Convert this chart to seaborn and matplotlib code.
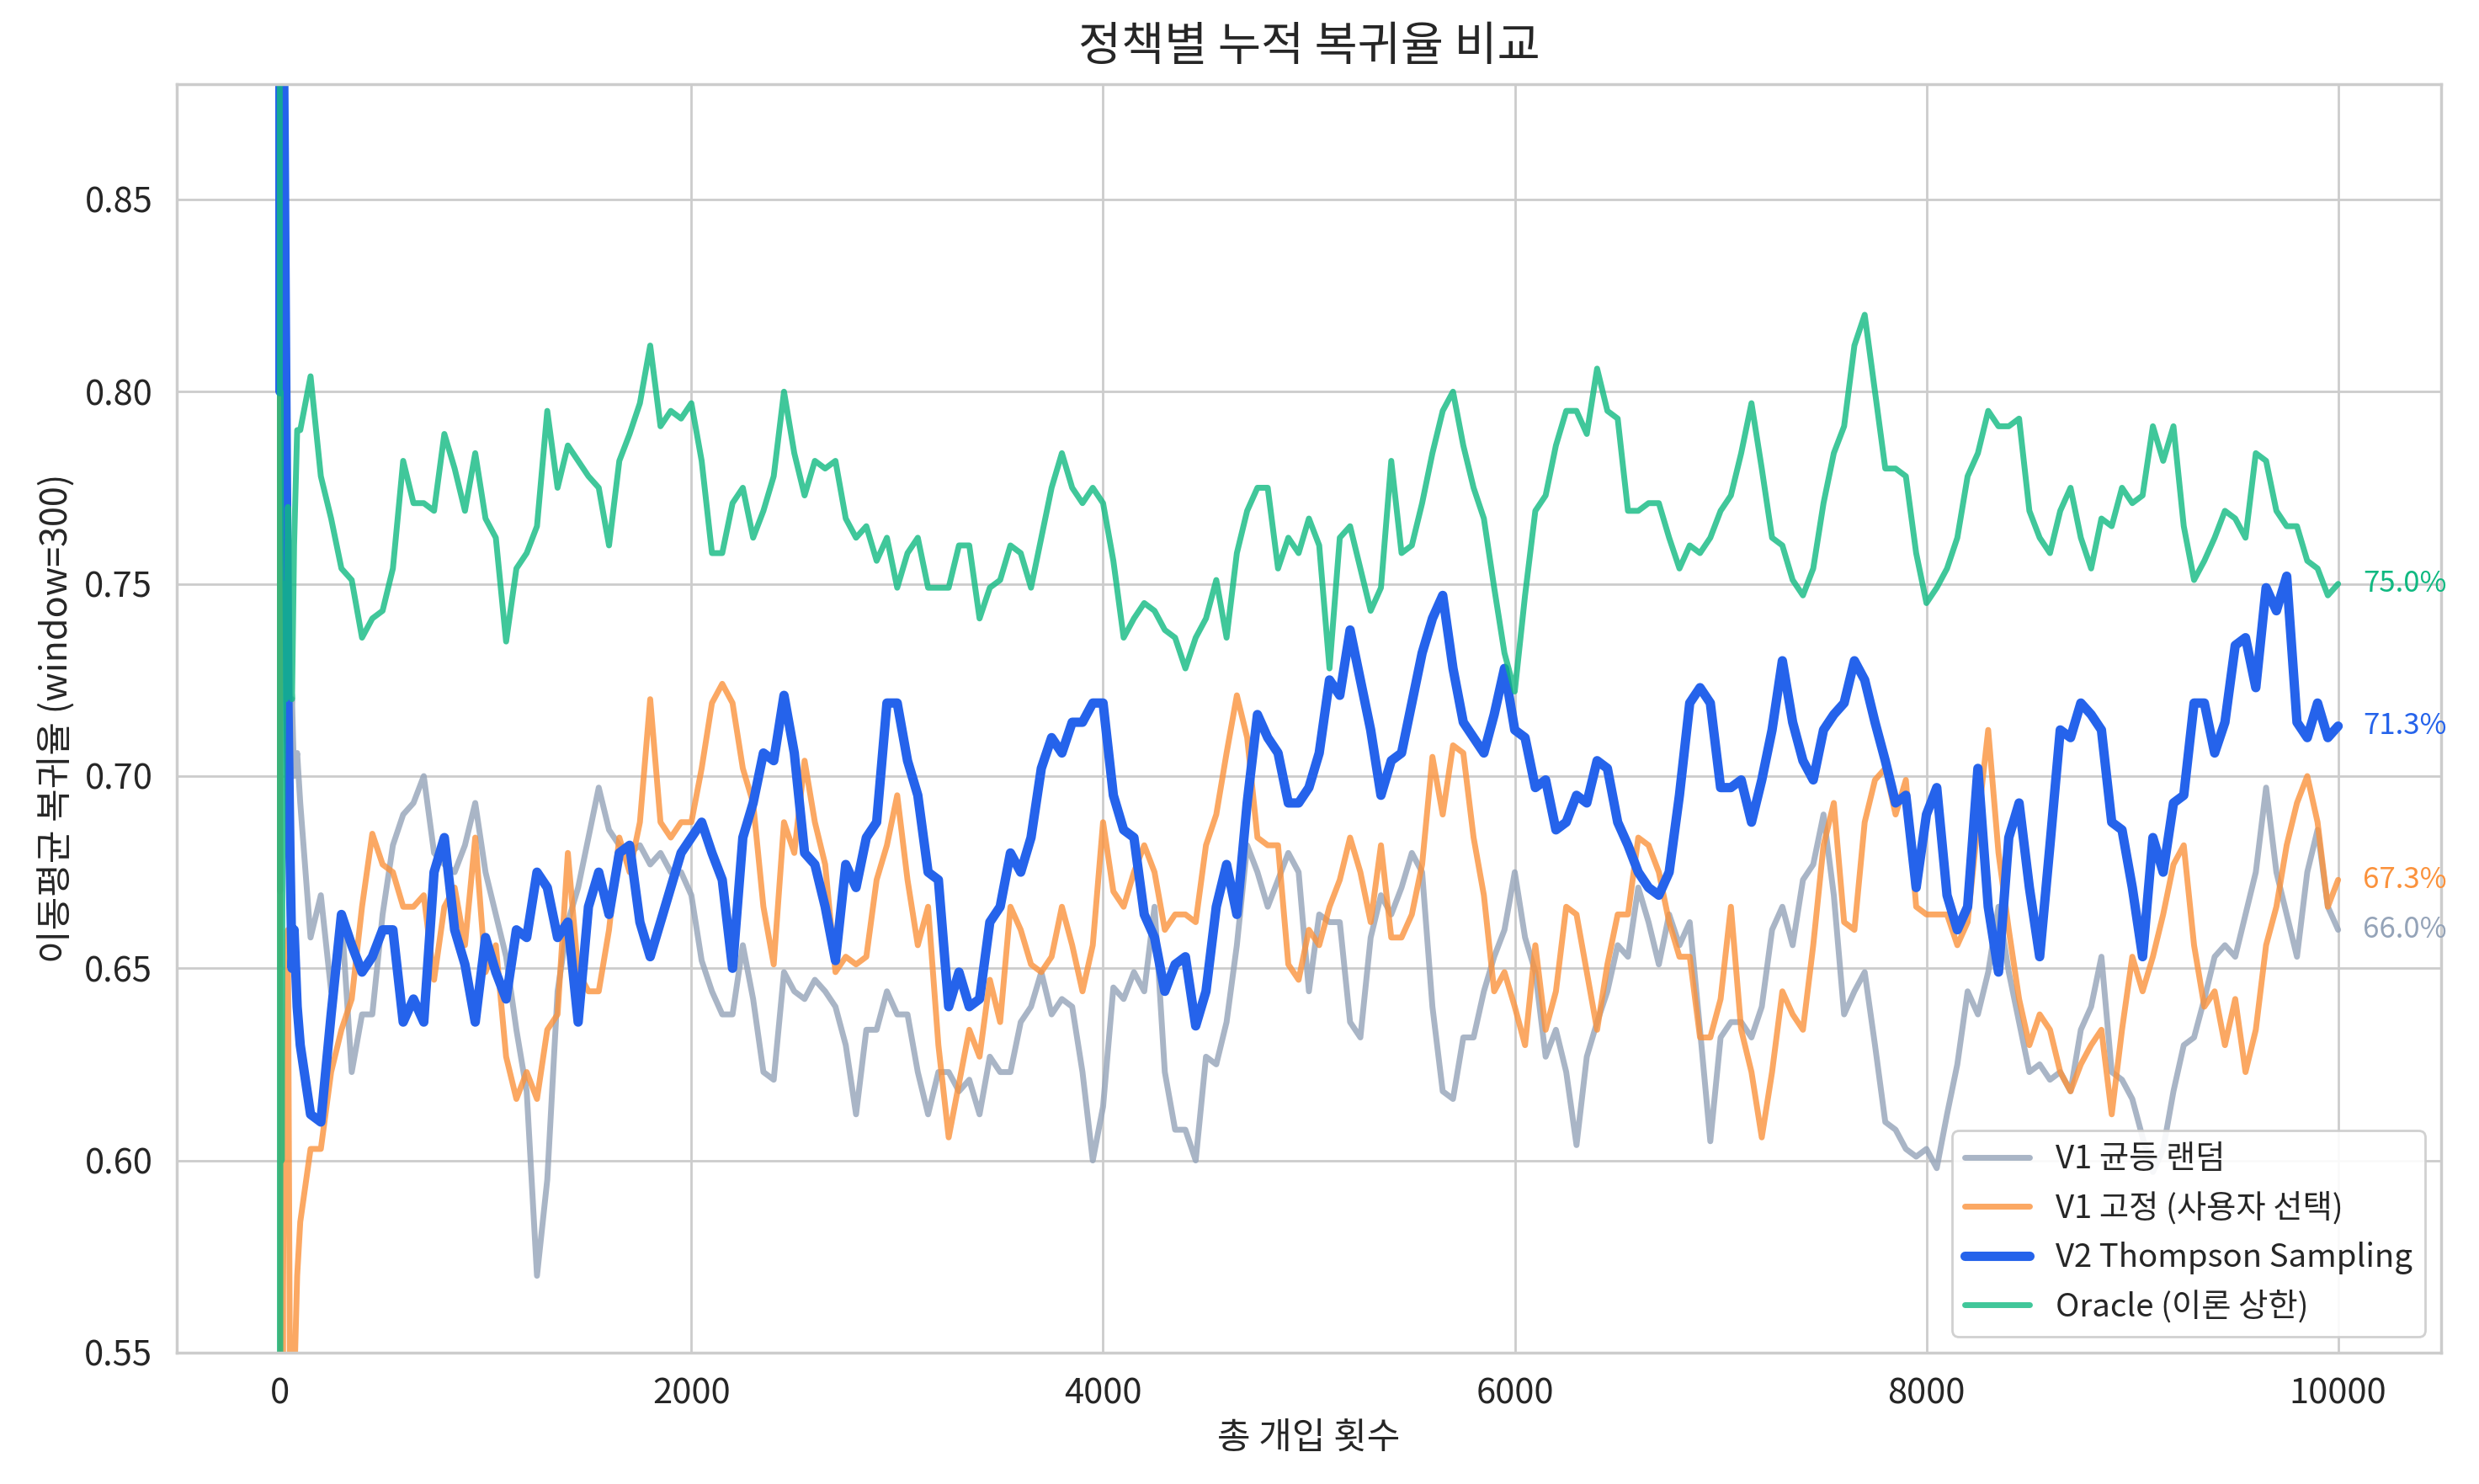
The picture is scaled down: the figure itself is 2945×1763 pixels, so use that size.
#!/usr/bin/env python3
"""정책별 누적 복귀율 비교 - moving average (window=300) per policy."""

import numpy as np
import pandas as pd
import matplotlib
matplotlib.use("Agg")
import matplotlib.pyplot as plt
import seaborn as sns

sns.set_theme(style="whitegrid")
plt.rcParams["font.family"] = ["Noto Sans CJK KR", "DejaVu Sans"]
plt.rcParams["axes.unicode_minus"] = False

# =============================================================================
# Data (read off the reference, sampled every 50 steps after a short warm-up)
# =============================================================================
policies = ["V1 균등 랜덤", "V1 고정 (사용자 선택)", "V2 Thompson Sampling", "Oracle (이론 상한)"]

warmup_steps = [0, 2, 5, 10, 15, 20, 30, 40, 50, 60, 70, 85]
grid_steps = np.arange(100, 10001, 50)

random_warmup = [1.0, 0.67, 0.8, 0.75, 0.72, 0.75, 0.72, 0.74, 0.71, 0.72, 0.70, 0.706]
fixed_warmup = [1.0, 0.67, 0.5, 0.6, 0.55, 0.6, 0.62, 0.66, 0.54, 0.50, 0.54, 0.57]
thompson_warmup = [1.0, 0.8, 1.0, 0.9, 0.92, 0.88, 0.80, 0.72, 0.68, 0.65, 0.66, 0.64]
oracle_warmup = [1.0, 0.5, 0.8, 0.6, 0.7, 0.75, 0.72, 0.77, 0.73, 0.72, 0.76, 0.79]

random_rate = [
    0.693, 0.658, 0.669, 0.644, 0.664, 0.623, 0.638, 0.638, 0.664, 0.682, 0.690, 0.693, 0.700, 0.680, 0.677, 0.675, 0.682, 0.693,
    0.675, 0.664, 0.653, 0.634, 0.618, 0.570, 0.595, 0.644, 0.662, 0.671, 0.684, 0.697, 0.686, 0.682, 0.680, 0.682, 0.677, 0.680, 0.675, 0.675,
    0.669, 0.652, 0.644, 0.638, 0.638, 0.656, 0.642, 0.623, 0.621, 0.649, 0.644, 0.642, 0.647, 0.644, 0.640, 0.630, 0.612, 0.634, 0.634, 0.644,
    0.638, 0.638, 0.623, 0.612, 0.623, 0.623, 0.618, 0.621, 0.612, 0.627, 0.623, 0.623, 0.636, 0.640, 0.649, 0.638, 0.642, 0.640, 0.623, 0.600,
    0.614, 0.645, 0.642, 0.649, 0.644, 0.666, 0.623, 0.608, 0.608, 0.600, 0.627, 0.625, 0.636, 0.656, 0.682, 0.675, 0.666, 0.673, 0.680, 0.675,
    0.644, 0.664, 0.662, 0.662, 0.636, 0.632, 0.658, 0.669, 0.664, 0.671, 0.680, 0.675, 0.640, 0.618, 0.616, 0.632, 0.632, 0.644, 0.653, 0.660,
    0.675, 0.658, 0.649, 0.627, 0.634, 0.623, 0.604, 0.627, 0.636, 0.644, 0.656, 0.653, 0.671, 0.662, 0.651, 0.664, 0.656, 0.662, 0.634, 0.605,
    0.632, 0.636, 0.636, 0.632, 0.640, 0.660, 0.666, 0.656, 0.673, 0.677, 0.690, 0.669, 0.638, 0.644, 0.649, 0.630, 0.610, 0.608, 0.603, 0.601,
    0.603, 0.598, 0.612, 0.625, 0.644, 0.638, 0.649, 0.666, 0.649, 0.636, 0.623, 0.625, 0.621, 0.623, 0.618, 0.634, 0.640, 0.653, 0.623, 0.621,
    0.616, 0.606, 0.597, 0.603, 0.618, 0.630, 0.632, 0.642, 0.653, 0.656, 0.653, 0.664, 0.675, 0.697, 0.675, 0.664, 0.653, 0.675, 0.686, 0.666,
    0.660,
]
fixed_rate = [
    0.584, 0.603, 0.603, 0.623, 0.634, 0.642, 0.666, 0.685, 0.677, 0.675, 0.666, 0.666, 0.669, 0.647, 0.666, 0.671, 0.656, 0.684,
    0.649, 0.656, 0.627, 0.616, 0.623, 0.616, 0.634, 0.638, 0.680, 0.649, 0.644, 0.644, 0.660, 0.684, 0.675, 0.688, 0.720, 0.688, 0.684, 0.688,
    0.688, 0.702, 0.719, 0.724, 0.719, 0.702, 0.693, 0.666, 0.651, 0.688, 0.680, 0.704, 0.688, 0.677, 0.649, 0.653, 0.651, 0.653, 0.673, 0.682,
    0.695, 0.673, 0.656, 0.666, 0.630, 0.606, 0.620, 0.634, 0.627, 0.647, 0.636, 0.666, 0.660, 0.651, 0.649, 0.653, 0.666, 0.656, 0.644, 0.656,
    0.688, 0.670, 0.666, 0.675, 0.682, 0.675, 0.660, 0.664, 0.664, 0.662, 0.682, 0.690, 0.706, 0.721, 0.710, 0.684, 0.682, 0.682, 0.651, 0.647,
    0.660, 0.656, 0.666, 0.673, 0.684, 0.675, 0.662, 0.682, 0.658, 0.658, 0.664, 0.677, 0.705, 0.690, 0.708, 0.706, 0.684, 0.669, 0.644, 0.649,
    0.640, 0.630, 0.656, 0.634, 0.644, 0.666, 0.664, 0.649, 0.634, 0.651, 0.664, 0.664, 0.684, 0.682, 0.675, 0.662, 0.653, 0.653, 0.632, 0.632,
    0.642, 0.666, 0.634, 0.623, 0.606, 0.623, 0.644, 0.638, 0.634, 0.656, 0.682, 0.693, 0.662, 0.660, 0.688, 0.699, 0.702, 0.690, 0.699, 0.666,
    0.664, 0.664, 0.664, 0.656, 0.662, 0.688, 0.712, 0.680, 0.660, 0.642, 0.630, 0.638, 0.634, 0.623, 0.618, 0.625, 0.630, 0.634, 0.612, 0.634,
    0.653, 0.644, 0.653, 0.664, 0.677, 0.682, 0.656, 0.640, 0.644, 0.630, 0.642, 0.623, 0.634, 0.656, 0.666, 0.682, 0.693, 0.700, 0.688, 0.666,
    0.673,
]
thompson_rate = [
    0.630, 0.612, 0.610, 0.638, 0.664, 0.656, 0.649, 0.653, 0.660, 0.660, 0.636, 0.642, 0.636, 0.675, 0.684, 0.660, 0.651, 0.636,
    0.658, 0.649, 0.642, 0.660, 0.658, 0.675, 0.671, 0.658, 0.662, 0.636, 0.666, 0.675, 0.664, 0.680, 0.682, 0.662, 0.653, 0.662, 0.671, 0.680,
    0.684, 0.688, 0.680, 0.673, 0.650, 0.684, 0.693, 0.706, 0.704, 0.721, 0.706, 0.680, 0.677, 0.666, 0.652, 0.677, 0.671, 0.684, 0.688, 0.719,
    0.719, 0.704, 0.695, 0.675, 0.673, 0.640, 0.649, 0.640, 0.642, 0.662, 0.666, 0.680, 0.675, 0.684, 0.702, 0.710, 0.706, 0.714, 0.714, 0.719,
    0.719, 0.695, 0.686, 0.684, 0.664, 0.658, 0.644, 0.651, 0.653, 0.635, 0.644, 0.666, 0.677, 0.664, 0.693, 0.716, 0.710, 0.706, 0.693, 0.693,
    0.697, 0.706, 0.725, 0.721, 0.738, 0.725, 0.712, 0.695, 0.704, 0.706, 0.719, 0.732, 0.741, 0.747, 0.728, 0.714, 0.710, 0.706, 0.716, 0.728,
    0.712, 0.710, 0.697, 0.699, 0.686, 0.688, 0.695, 0.693, 0.704, 0.702, 0.688, 0.682, 0.675, 0.671, 0.669, 0.675, 0.695, 0.719, 0.723, 0.719,
    0.697, 0.697, 0.699, 0.688, 0.699, 0.712, 0.730, 0.714, 0.704, 0.699, 0.712, 0.716, 0.719, 0.730, 0.725, 0.714, 0.704, 0.693, 0.695, 0.671,
    0.690, 0.697, 0.669, 0.660, 0.666, 0.702, 0.666, 0.649, 0.684, 0.693, 0.671, 0.653, 0.682, 0.712, 0.710, 0.719, 0.716, 0.712, 0.688, 0.686,
    0.671, 0.653, 0.684, 0.675, 0.693, 0.695, 0.719, 0.719, 0.706, 0.714, 0.734, 0.736, 0.723, 0.749, 0.743, 0.752, 0.714, 0.710, 0.719, 0.710,
    0.713,
]
oracle_rate = [
    0.790, 0.804, 0.778, 0.767, 0.754, 0.751, 0.736, 0.741, 0.743, 0.754, 0.782, 0.771, 0.771, 0.769, 0.789, 0.780, 0.769, 0.784,
    0.767, 0.762, 0.735, 0.754, 0.758, 0.765, 0.795, 0.775, 0.786, 0.782, 0.778, 0.775, 0.760, 0.782, 0.789, 0.797, 0.812, 0.791, 0.795, 0.793,
    0.797, 0.782, 0.758, 0.758, 0.771, 0.775, 0.762, 0.769, 0.778, 0.800, 0.784, 0.773, 0.782, 0.780, 0.782, 0.767, 0.762, 0.765, 0.756, 0.762,
    0.749, 0.758, 0.762, 0.749, 0.749, 0.749, 0.760, 0.760, 0.741, 0.749, 0.751, 0.760, 0.758, 0.749, 0.762, 0.775, 0.784, 0.775, 0.771, 0.775,
    0.771, 0.756, 0.736, 0.741, 0.745, 0.743, 0.738, 0.736, 0.728, 0.736, 0.741, 0.751, 0.736, 0.758, 0.769, 0.775, 0.775, 0.754, 0.762, 0.758,
    0.767, 0.760, 0.728, 0.762, 0.765, 0.754, 0.743, 0.749, 0.782, 0.758, 0.760, 0.771, 0.784, 0.795, 0.800, 0.786, 0.775, 0.767, 0.749, 0.732,
    0.722, 0.747, 0.769, 0.773, 0.786, 0.795, 0.795, 0.789, 0.806, 0.795, 0.793, 0.769, 0.769, 0.771, 0.771, 0.762, 0.754, 0.760, 0.758, 0.762,
    0.769, 0.773, 0.784, 0.797, 0.780, 0.762, 0.760, 0.751, 0.747, 0.754, 0.771, 0.784, 0.791, 0.812, 0.820, 0.800, 0.780, 0.780, 0.778, 0.758,
    0.745, 0.749, 0.754, 0.762, 0.778, 0.784, 0.795, 0.791, 0.791, 0.793, 0.769, 0.762, 0.758, 0.769, 0.775, 0.762, 0.754, 0.767, 0.765, 0.775,
    0.771, 0.773, 0.791, 0.782, 0.791, 0.765, 0.751, 0.756, 0.762, 0.769, 0.767, 0.762, 0.784, 0.782, 0.769, 0.765, 0.765, 0.756, 0.754, 0.747,
    0.750,
]

colors = ["#94a3b8", "#fb923c", "#2563eb", "#10b981"]
widths = [2.5, 2.5, 4.0, 2.5]
alphas = [0.8, 0.8, 1.0, 0.8]

# =============================================================================
# Plot
# =============================================================================
fig, ax = plt.subplots(figsize=(14.725, 8.815), dpi=200)
fig.subplots_adjust(left=0.0713, right=0.9847, top=0.9433, bottom=0.0885)

series = [
    (random_warmup, random_rate),
    (fixed_warmup, fixed_rate),
    (thompson_warmup, thompson_rate),
    (oracle_warmup, oracle_rate),
]

for name, (warm, rate), c, lw, a in zip(policies, series, colors, widths, alphas):
    df = pd.DataFrame(
        {"step": np.concatenate([warmup_steps, grid_steps]), "rate": np.concatenate([warm, rate])}
    )
    sns.lineplot(data=df, x="step", y="rate", ax=ax, color=c, linewidth=lw, alpha=a,
                 label=name, estimator=None)
    ax.text(10120, rate[-1], f"{rate[-1] * 100:.1f}%", color=c, fontsize=12.5, va="center", ha="left")

ax.set_xlim(-500, 10500)
ax.set_ylim(0.55, 0.88)
ax.set_xticks([0, 2000, 4000, 6000, 8000, 10000])
ax.set_yticks([0.55, 0.60, 0.65, 0.70, 0.75, 0.80, 0.85])
ax.yaxis.set_major_formatter(matplotlib.ticker.FormatStrFormatter("%.2f"))
ax.tick_params(labelsize=15, pad=4.3)

ax.set_title("정책별 누적 복귀율 비교", fontsize=20, pad=10)
ax.set_xlabel("총 개입 횟수", fontsize=15.5)
ax.set_ylabel("이동평균 복귀율 (window=300)", fontsize=15.5)
ax.legend(loc="lower right", fontsize=13.8, framealpha=0.9)

plt.savefig("out.png", dpi=200, facecolor="white")
plt.close()
print("✓ Created: out.png")
